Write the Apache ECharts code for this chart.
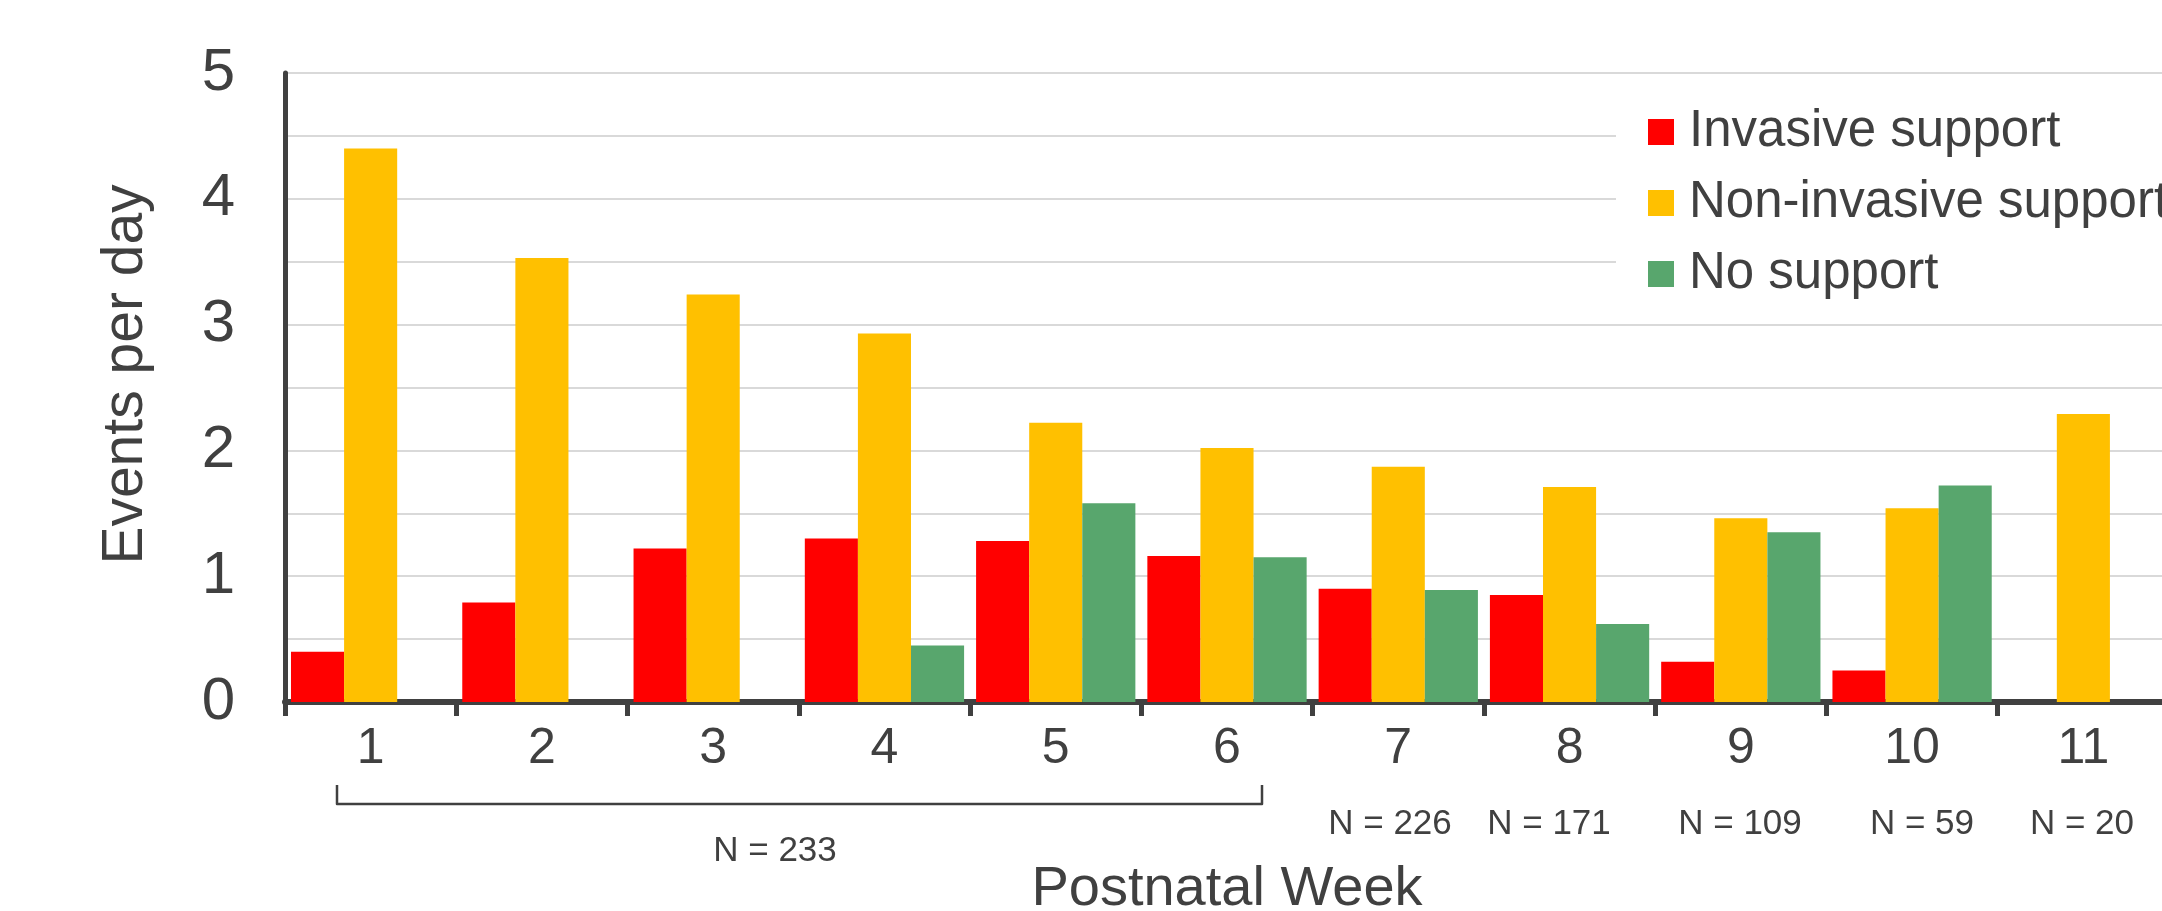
<!DOCTYPE html>
<html>
<head>
<meta charset="utf-8">
<script src="https://cdn.jsdelivr.net/npm/echarts@6/dist/echarts.min.js"></script>
<style>
  html, body { margin: 0; padding: 0; background: #fff; overflow: hidden; }
  #chart { width: 2200px; height: 911px; }
</style>
</head>
<body>
<div id="chart"></div>
<script>
// data
const weeks = ['1', '2', '3', '4', '5', '6', '7', '8', '9', '10', '11'];
const invasive = [0.40, 0.79, 1.22, 1.30, 1.28, 1.16, 0.90, 0.85, 0.32, 0.25, null];
const nonInvasive = [4.40, 3.53, 3.24, 2.93, 2.22, 2.02, 1.87, 1.71, 1.46, 1.54, 2.29];
const noSupport = [null, null, null, 0.45, 1.58, 1.15, 0.89, 0.62, 1.35, 1.72, null];
const sampleSizes = ['N = 233', 'N = 226', 'N = 171', 'N = 109', 'N = 59', 'N = 20'];

const FONT = '"Liberation Sans", Arial, sans-serif';
const INK = '#404040';

// where the N labels sit (pixel centres)
const nPos = [[775, 851], [1390, 824], [1549, 824], [1740, 824], [1922, 824], [2082, 824]];

const chart = echarts.init(document.getElementById('chart'));

const graphics = sampleSizes.map((t, i) => ({
  type: 'text',
  x: nPos[i][0],
  y: nPos[i][1],
  style: {
    text: t,
    fill: INK,
    font: '35px ' + FONT,
    textAlign: 'center',
    textVerticalAlign: 'middle'
  }
}));
// bracket under weeks 1-6
graphics.push({
  type: 'polyline',
  shape: { points: [[337, 785], [337, 804], [1262, 804], [1262, 785]] },
  style: { stroke: INK, lineWidth: 2.5, fill: null, lineJoin: 'round' }
});

const option = {
  animation: false,
  backgroundColor: '#fff',
  textStyle: { fontFamily: FONT },
  grid: { left: 285, top: 73, width: 1884, height: 629, containLabel: false, outerBoundsMode: 'none' },
  legend: {
    orient: 'vertical',
    left: 1616,
    top: 82,
    padding: [20, 300, 12, 32],
    backgroundColor: '#fff',
    icon: 'rect',
    itemWidth: 26,
    itemHeight: 26,
    itemGap: 11,
    textStyle: { color: INK, fontSize: 51, fontFamily: FONT, lineHeight: 60, padding: [0, 0, 0, 10] },
    data: ['Invasive support', 'Non-invasive support', 'No support']
  },
  xAxis: {
    type: 'category',
    data: weeks,
    name: 'Postnatal Week',
    nameLocation: 'middle',
    nameGap: 160,
    nameTextStyle: { color: INK, fontSize: 56, fontFamily: FONT },
    axisLine: { lineStyle: { color: INK, width: 6 } },
    axisTick: { show: true, length: 14, lineStyle: { color: INK, width: 5 } },
    axisLabel: { color: INK, fontSize: 50, fontFamily: FONT, margin: 22 }
  },
  yAxis: {
    type: 'value',
    min: 0,
    max: 5,
    interval: 0.5,
    name: 'Events per day',
    nameLocation: 'middle',
    nameGap: 130,
    nameTextStyle: { color: INK, fontSize: 57, fontFamily: FONT, padding: [0, 0, 0, 26] },
    axisLine: { show: true, lineStyle: { color: INK, width: 5 } },
    axisTick: { show: false },
    axisLabel: {
      color: INK,
      fontSize: 60,
      fontFamily: FONT,
      margin: 50,
      formatter: v => (v % 1 === 0 ? String(v) : '')
    },
    splitLine: { lineStyle: { color: '#d9d9d9', width: 2 } }
  },
  series: [
    { name: 'Invasive support', type: 'bar', data: invasive, itemStyle: { color: '#ff0000' }, barGap: '0%', barCategoryGap: '7%' },
    { name: 'Non-invasive support', type: 'bar', data: nonInvasive, itemStyle: { color: '#ffc000' }, barGap: '0%', barCategoryGap: '7%' },
    { name: 'No support', type: 'bar', data: noSupport, itemStyle: { color: '#58a66d' }, barGap: '0%', barCategoryGap: '7%' }
  ],
  graphic: graphics
};

chart.setOption(option);
</script>
</body>
</html>
